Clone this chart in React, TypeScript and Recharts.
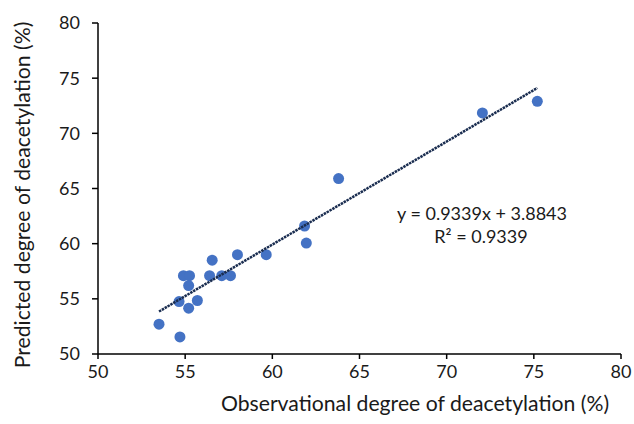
import React from 'react';
import { ScatterChart, Scatter, XAxis, YAxis } from 'recharts';

// observed vs predicted degree of deacetylation (%)
const observed = [
  53.5, 54.7, 54.65, 55.2, 55.7, 54.9, 55.25, 55.2, 56.4, 56.55,
  57.1, 57.6, 58.0, 59.65, 61.95, 61.85, 63.8, 72.05, 75.2,
];
const predicted = [
  52.7, 51.55, 54.75, 54.15, 54.85, 57.1, 57.1, 56.2, 57.1, 58.5,
  57.1, 57.1, 59.0, 59.0, 60.05, 61.6, 65.9, 71.85, 72.9,
];

// linear trendline ends (y = 0.9339x + 3.8843)
const trendX = [53.5, 75.2];
const trendY = [53.85, 74.11];

const ticks = [50, 55, 60, 65, 70, 75, 80];

const points = observed.map((x, i) => ({ x, y: predicted[i] }));
const trend = trendX.map((x, i) => ({ x, y: trendY[i] }));

const font = 'Lato, "Open Sans", sans-serif';
const textColor = '#1a1a1a';

const App = () => {
  return (
    <div style={{ position: 'absolute', left: 0, top: 0, background: '#fff' }}>
      <ScatterChart
        width={634}
        height={424}
        margin={{ top: 23, right: 13, bottom: 0, left: 0 }}
        style={{ fontFamily: font }}
      >
        <XAxis
          type="number"
          dataKey="x"
          domain={[50, 80]}
          ticks={ticks}
          height={70}
          stroke="#000"
          strokeWidth={1.5}
          tickSize={5}
          tickMargin={6}
          tick={{ fill: textColor, fontSize: 18 }}
        />
        <YAxis
          type="number"
          dataKey="y"
          domain={[50, 80]}
          ticks={ticks}
          width={98}
          stroke="#000"
          strokeWidth={1.5}
          tickSize={6}
          tickMargin={12}
          tick={{ fill: textColor, fontSize: 18 }}
        />
        <Scatter
          data={points}
          fill="#4472c4"
          isAnimationActive={false}
          shape={(p: any) => <circle cx={p.cx} cy={p.cy} r={5.5} fill="#4472c4" />}
        />
        <Scatter
          data={trend}
          isAnimationActive={false}
          line={{ stroke: '#1a2d50', strokeWidth: 2.5, strokeDasharray: '2.5 0.8' }}
          shape={() => <g />}
        />
        <text x={482} y={220} textAnchor="middle" fill={textColor} fontSize={18} fontFamily={font}>
          y = 0.9339x + 3.8843
        </text>
        <text x={481} y={243} textAnchor="middle" fill={textColor} fontSize={18} fontFamily={font}>
          R² = 0.9339
        </text>
        <text x={415} y={411} textAnchor="middle" fill={textColor} fontSize={21.2} fontFamily={font}>
          Observational degree of deacetylation (%)
        </text>
        <text
          transform="translate(22,195) rotate(-90)"
          textAnchor="middle"
          dominantBaseline="central"
          fill={textColor}
          fontSize={21.2}
          fontFamily={font}
        >
          Predicted degree of deacetylation (%)
        </text>
      </ScatterChart>
    </div>
  );
};

export default App;
